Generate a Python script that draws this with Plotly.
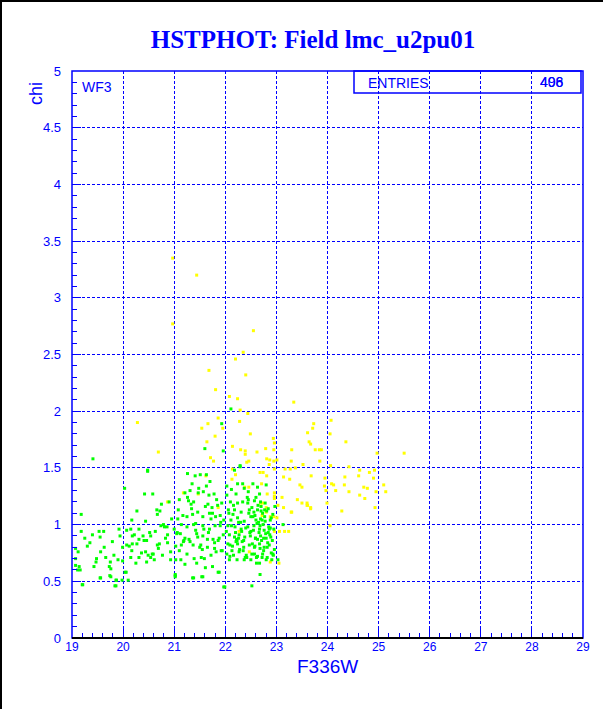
import plotly.graph_objects as go

# ---- data ----
green_x = [19.18,19.18,19.40,19.53,19.55,19.63,19.79,19.56,19.66,19.75,19.73,19.76,19.56,19.12,19.07,19.07,19.07,19.14,19.16,19.30,19.43,19.48,19.76,19.86,19.86,19.21,19.92,19.94,19.90,19.99,
           19.11,19.20,19.55,19.74,19.84,19.87,19.98,20.04,20.10,21.02,21.02,21.36,21.54,21.88,21.97,22.52,22.68,
           20.03,20.42,20.58,20.48,20.75,20.66,20.27,20.67,20.44,20.17,20.74,20.79,20.07,20.15,20.31,20.18,20.31,20.41,20.46,20.54,20.63,20.86,20.87,20.71,20.67,20.87,20.18,20.27,20.07,20.17,20.44,20.59,20.77,20.54,20.31,20.15,20.06,20.93,20.93,20.46,20.61,19.99,
           21.26,21.41,21.51,21.63,21.35,21.63,21.21,21.31,21.47,21.57,21.68,21.78,21.10,21.26,21.38,21.61,21.83,21.93,21.85,21.08,21.25,21.36,21.46,21.56,21.69,21.75,21.81,21.90,21.97,21.07,21.14,21.00,21.25,21.38,21.56,21.69,21.80,21.90,21.12,21.21,21.31,21.46,21.56,21.65,21.76,21.86,21.96,21.03,21.14,21.37,21.50,21.65,21.82,21.92,21.10,21.25,21.53,21.72,21.03,21.13,21.39,21.59,21.75,21.86,21.02,21.21,21.38,21.56,
           22.29,22.18,22.03,22.24,22.34,22.12,22.21,22.03,22.37,22.45,22.54,22.63,22.67,22.80,22.10,22.24,22.34,22.44,22.57,22.69,22.78,22.06,22.18,22.31,22.47,22.56,22.63,22.73,22.84,22.93,22.11,22.24,22.37,22.50,22.60,22.69,22.78,22.88,22.05,22.19,22.31,22.44,22.56,22.67,22.76,22.86,22.95,22.08,22.18,22.27,22.38,22.49,22.59,22.69,22.80,22.89,22.05,22.14,22.24,22.36,22.47,22.57,22.67,22.76,22.86,22.96,22.03,22.16,22.27,22.41,22.52,22.63,22.73,22.82,22.93,22.08,22.23,22.37,22.50,22.67,22.80,22.91,23.03,21.99,
           19.41,22.11,21.93,21.60,21.96,20.48,22.29,23.13,
           22.52,22.58,22.62,22.66,22.71,22.75,22.60,22.64,22.70,22.74,22.79,22.83,22.55,22.59,22.68,22.72,22.77,22.85,22.90,22.53,22.57,22.61,22.65,22.70,22.82,22.87,22.92,22.42,22.46,22.50,22.33,22.28,22.22,22.15,22.40,22.36,22.26,22.20,22.13,22.09,21.72,21.66,21.58,21.44,21.34,21.18,21.79,21.88,21.52,21.42,
           20.22,20.36,20.52,20.69,20.83,20.95,20.12,20.39,20.57,20.81,20.25,20.49,20.72,20.90,21.05,21.17,21.29,21.42,21.55,21.67,21.79,21.91,21.06,21.19,21.33,21.48,21.61,21.74,21.94,21.28,21.44,21.70,
           22.02,22.09,22.16,22.23,22.30,22.35,22.43,22.48,22.54,22.61,22.68,22.75,22.81,22.88,22.94,22.07,22.21,22.32,22.45,22.58,22.72,22.84,22.97,22.12,22.26,22.39,22.63,22.77,22.90,19.35,19.62,19.82,19.25,19.47]
green_y = [1.09,0.94,0.91,0.94,0.89,0.80,0.85,0.76,0.71,0.67,0.63,0.61,0.53,0.76,0.79,0.70,0.64,0.63,0.60,0.81,0.63,0.70,0.54,0.51,0.46,0.47,0.96,0.90,0.69,0.80,
           0.60,0.47,0.53,0.55,0.46,0.51,0.51,0.58,0.51,0.56,0.54,0.53,0.54,0.58,0.45,0.46,0.56,
           1.32,1.27,1.27,1.47,1.18,1.13,1.12,1.09,1.03,1.04,0.99,1.00,0.95,0.96,0.96,0.90,0.87,0.86,0.86,0.90,0.94,0.98,0.91,0.83,0.82,0.84,0.83,0.83,0.82,0.77,0.76,0.74,0.73,0.71,0.71,0.71,0.58,0.76,0.69,0.67,0.69,0.68,
           1.45,1.43,1.44,1.44,1.36,1.34,1.28,1.30,1.28,1.29,1.26,1.27,1.22,1.24,1.20,1.16,1.22,1.19,1.17,1.13,1.07,1.09,1.11,1.07,1.10,1.10,1.07,1.08,1.04,1.05,1.00,0.96,0.98,1.00,0.99,0.96,0.99,0.99,0.92,0.88,0.85,0.89,0.90,0.87,0.87,0.86,0.91,0.81,0.82,0.82,0.80,0.80,0.76,0.77,0.77,0.74,0.71,0.73,0.69,0.69,0.70,0.70,0.63,0.58,0.55,0.65,0.53,0.54,
           1.51,1.48,1.34,1.36,1.36,1.31,1.27,1.26,1.32,1.29,1.36,1.33,1.27,1.35,1.20,1.19,1.20,1.19,1.21,1.20,1.19,1.13,1.13,1.11,1.13,1.11,1.13,1.10,1.14,1.09,1.04,1.06,1.03,1.07,1.04,1.05,1.03,1.04,0.99,0.98,0.96,0.98,0.99,0.96,0.95,0.96,0.96,0.91,0.89,0.91,0.89,0.90,0.88,0.90,0.88,0.89,0.83,0.81,0.83,0.80,0.82,0.80,0.83,0.80,0.82,0.78,0.74,0.73,0.76,0.73,0.74,0.72,0.74,0.71,0.74,0.69,0.69,0.69,0.69,0.66,0.69,0.69,0.69,0.45,
           1.58,2.02,1.89,1.67,1.65,1.48,1.52,1.00,
           1.15,1.08,1.01,0.93,0.86,0.77,1.24,1.17,1.12,1.00,0.92,0.84,0.95,0.88,0.79,0.71,1.07,0.98,0.75,0.83,0.74,0.66,1.02,1.16,0.80,0.91,0.86,0.71,1.10,0.94,0.85,0.78,0.87,1.09,0.97,0.86,1.02,0.93,0.77,0.72,1.05,1.18,0.96,0.92,1.14,0.85,0.79,0.88,0.82,1.01,0.91,0.75,
           0.93,0.79,0.88,1.05,0.81,0.90,0.74,0.98,0.66,0.73,1.12,1.20,0.92,1.08,0.87,0.95,0.78,0.93,0.84,1.02,0.93,0.86,1.18,1.32,0.62,1.15,0.77,1.21,0.66,1.38,0.94,0.82,
           1.17,0.86,1.02,0.77,1.24,0.93,1.07,0.71,0.99,0.88,1.12,0.97,0.73,1.10,0.85,0.94,1.22,0.81,1.04,0.93,1.16,0.99,0.88,0.71,0.87,1.13,1.06,0.84,0.94,0.73,0.88,0.67,0.58,0.82]

yellow_x = [21.81,22.08,22.24,22.29,22.44,20.28,21.86,21.66,22.28,21.54,21.95,22.49,21.80,21.64,22.79,22.95,22.14,22.30,22.39,20.69,22.39,22.62,21.71,21.77,22.42,22.46,22.81,22.87,22.95,22.86,22.96,22.14,22.20,22.68,22.74,22.81,21.62,22.13,22.38,22.46,22.71,22.96,22.82,20.87,21.18,21.47,21.86,22.69,22.80,22.96,22.72,22.95,22.88,22.94,22.96,
            23.34,24.07,23.73,23.71,23.61,24.05,24.36,23.64,23.67,23.76,23.84,23.88,23.30,24.97,25.50,23.85,23.29,23.52,23.01,24.06,24.42,23.17,23.27,23.37,24.63,24.82,24.92,23.68,23.14,23.95,24.34,24.61,24.90,23.26,23.46,23.50,24.08,24.12,23.94,24.33,23.97,24.16,24.42,24.71,24.78,25.10,25.14,24.95,24.63,23.11,23.41,24.73,23.60,23.99,23.60,23.14,23.67,24.93,23.30,24.28,23.01,24.05,
            22.96,23.06,23.16,23.24,22.47,22.88,23.05,22.80,22.73,22.96,23.03,23.29,23.50,23.61,23.67,22.27,
            20.97,21.44,20.97,22.55,22.35,22.20,21.68,22.40]
yellow_y = [2.19,2.13,2.11,2.01,1.98,1.90,1.94,1.89,1.91,1.85,1.85,1.80,1.78,1.73,1.67,1.66,1.69,1.66,1.65,1.64,1.62,1.64,1.59,1.56,1.55,1.56,1.58,1.57,1.56,1.53,1.49,1.49,1.44,1.46,1.46,1.43,1.43,1.40,1.33,1.33,1.36,1.28,1.27,1.20,1.28,1.27,1.15,1.19,1.15,1.25,1.08,1.07,1.07,1.76,1.72,
            2.08,1.92,1.89,1.85,1.81,1.80,1.73,1.73,1.71,1.66,1.66,1.66,1.66,1.63,1.63,1.56,1.56,1.53,1.57,1.52,1.51,1.49,1.49,1.50,1.48,1.46,1.48,1.43,1.42,1.41,1.42,1.43,1.41,1.40,1.35,1.33,1.36,1.35,1.34,1.35,1.30,1.30,1.29,1.33,1.32,1.35,1.29,1.29,1.26,1.24,1.22,1.23,1.19,1.19,1.17,1.15,1.15,1.15,1.11,1.12,1.06,0.99,
            0.94,0.94,0.94,0.94,0.76,0.67,0.66,1.11,1.19,1.23,1.17,1.11,1.19,1.17,1.14,0.94,
            3.35,3.20,2.77,2.71,2.52,2.46,2.36,2.32]

x_ticks = [19,20,21,22,23,24,25,26,27,28,29]
y_ticks = [0,0.5,1,1.5,2,2.5,3,3.5,4,4.5,5]
y_ticklabels = ["0","0.5","1","1.5","2","2.5","3","3.5","4","4.5","5"]

BLUE = "#0000ff"
FONT = "Liberation Sans"

fig = go.Figure()
fig.add_trace(go.Scatter(x=yellow_x, y=yellow_y, mode="markers",
                         marker=dict(symbol="square", size=3, color="#ffff00", line=dict(width=0)),
                         showlegend=False, hoverinfo="skip"))
fig.add_trace(go.Scatter(x=green_x, y=green_y, mode="markers",
                         marker=dict(symbol="square", size=3, color="#00ff00", line=dict(width=0)),
                         showlegend=False, hoverinfo="skip"))

def px2x(px):
    return (px - 72) / 511.0

def py2y(py):
    return (638 - py) / 567.0

fig.update_layout(
    width=612, height=709,
    margin=dict(l=72, r=29, t=71, b=71, pad=0),
    paper_bgcolor="white", plot_bgcolor="white",
    title=dict(text="<b>HSTPHOT: Field lmc_u2pu01</b>", x=px2x(313), xanchor="center", xref="paper",
               y=1 - 39/709, yanchor="middle",
               font=dict(family="Liberation Serif", size=25, color=BLUE)),
    xaxis=dict(range=[19, 29], tickvals=x_ticks, ticktext=[str(v) for v in x_ticks],
               showgrid=True, gridcolor=BLUE, griddash="3px,2px", gridwidth=1,
               zeroline=False, showline=False,
               ticks="inside", ticklen=9, tickcolor=BLUE, tickwidth=1,
               minor=dict(dtick=0.2, ticks="inside", ticklen=5, tickcolor=BLUE, showgrid=False),
               tickfont=dict(family=FONT, size=12, color=BLUE), fixedrange=True),
    yaxis=dict(range=[0, 5], tickvals=y_ticks, ticktext=y_ticklabels,
               showgrid=True, gridcolor=BLUE, griddash="3px,2px", gridwidth=1,
               zeroline=False, showline=False,
               ticks="inside", ticklen=9, tickcolor=BLUE, tickwidth=1,
               ticklabelstandoff=10,
               minor=dict(dtick=0.1, ticks="inside", ticklen=5, tickcolor=BLUE, showgrid=False),
               tickfont=dict(family=FONT, size=13, color=BLUE), fixedrange=True),
)

shapes = [
    dict(type="rect", xref="paper", yref="paper", x0=0, x1=1, y0=0, y1=1, line=dict(color=BLUE, width=1.5)),
    dict(type="line", xref="paper", yref="paper", x0=0, x1=1, y0=0, y1=0, line=dict(color="black", width=2)),
    dict(type="rect", xref="paper", yref="paper", x0=px2x(354), x1=px2x(581), y0=py2y(93), y1=1,
         line=dict(color=BLUE, width=1.5), fillcolor="rgba(0,0,0,0)"),
    dict(type="line", xref="paper", yref="paper", x0=px2x(1), x1=px2x(1), y0=py2y(709), y1=py2y(0),
         line=dict(color="black", width=2)),
    dict(type="line", xref="paper", yref="paper", x0=px2x(0), x1=px2x(603), y0=py2y(1), y1=py2y(1),
         line=dict(color="black", width=2)),
]
fig.update_layout(shapes=shapes)

ann = [
    dict(text="WF3", x=px2x(80), y=py2y(87), xanchor="left", yanchor="middle"),
    dict(text="ENTRIES", x=px2x(366), y=py2y(83), xanchor="left", yanchor="middle"),
    dict(text="498", x=px2x(538), y=py2y(82), xanchor="left", yanchor="middle"),
    dict(text="406", x=px2x(538), y=py2y(82), xanchor="left", yanchor="middle"),
    dict(text="F336W", x=px2x(327), y=py2y(666), xanchor="center", yanchor="middle", size=19),
    dict(text="chi", x=px2x(36), y=py2y(94), xanchor="center", yanchor="middle", size=18, angle=-90),
]
for a in ann:
    fig.add_annotation(text=a["text"], x=a["x"], y=a["y"], xref="paper", yref="paper",
                       xanchor=a["xanchor"], yanchor=a["yanchor"], showarrow=False,
                       textangle=a.get("angle", 0),
                       font=dict(family=FONT, size=a.get("size", 14), color=BLUE))

fig.write_html("out.html", config={"displayModeBar": False},
               post_script="document.body.style.margin='0px';document.body.style.overflow='hidden';")
